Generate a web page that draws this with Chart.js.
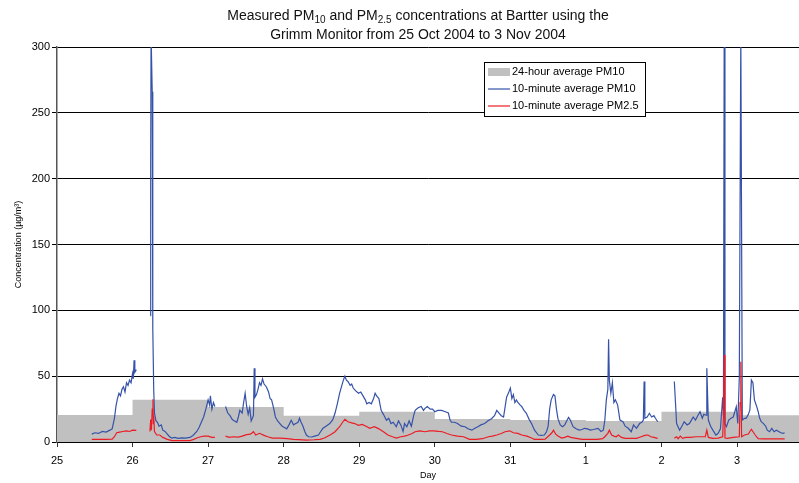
<!DOCTYPE html>
<html>
<head>
<meta charset="utf-8">
<script src="https://cdn.jsdelivr.net/npm/chart.js@4/dist/chart.umd.min.js"></script>
<style>
  body { margin: 0; background: #fff; }
  #wrap { position: relative; width: 799px; height: 483px; }
  #title {
    position: absolute; left: 0; top: 6px; width: 836px;
    text-align: center; font: 14px "Liberation Sans", Arial, sans-serif;
    line-height: 19px; color: #111;
  }
  #title sub { font-size: 10px; vertical-align: -3px; line-height: 0; }
</style>
</head>
<body>
<div id="wrap">
  <canvas id="chart" width="799" height="483"></canvas>
  <div id="title">Measured PM<sub>10</sub> and PM<sub>2.5</sub> concentrations at Bartter using the<br>Grimm Monitor from 25 Oct 2004 to 3 Nov 2004</div>
</div>
<script>
// Day offsets from 25 Oct 2004 (0 = 25 Oct, 9 = 3 Nov)
const dayLabels = ['25', '26', '27', '28', '29', '30', '31', '1', '2', '3'];
const yTicks = [0, 50, 100, 150, 200, 250, 300];
const dayEnd = 9.82;

// 24-hour average PM10, one value per day
const avgDays = [0, 1, 2, 3, 4, 5, 6, 7, 8, 9, dayEnd];
const avgValues = [20.5, 32, 26.5, 20, 23, 17.5, 16.7, 16, 23, 20.3, 20.3];

// 10-minute average PM10 [day, value]; null = no data
const pm10 = [
    [0.46, 6], [0.50, 7], [0.55, 6.5], [0.60, 8], [0.65, 7.5], [0.70, 9], [0.73, 10], [0.76, 18],
    [0.78, 27], [0.80, 33], [0.82, 37], [0.84, 35], [0.86, 40], [0.88, 42], [0.90, 38], [0.92, 45],
    [0.94, 43], [0.96, 47], [0.98, 45], [1.00, 52], [1.01, 48], [1.02, 62], [1.03, 53], [1.05, 55],
    [1.10, null],
    [1.235, 96], [1.24, 210], [1.245, 310], [1.255, 310], [1.26, 266], [1.265, 147], [1.27, 87],
    [1.28, 40], [1.29, 22], [1.31, 16], [1.33, 15], [1.35, 12], [1.38, 13], [1.40, 9], [1.43, 8],
    [1.46, 6], [1.49, 4], [1.52, 3], [1.56, 3.5], [1.60, 2.8], [1.65, 3.2], [1.70, 3], [1.76, 3.5],
    [1.80, 5], [1.85, 8], [1.88, 11], [1.91, 15], [1.94, 19], [1.97, 25], [2.00, 32], [2.02, 28],
    [2.03, 35], [2.05, 25], [2.07, 30], [2.09, 27],
    [2.15, null],
    [2.23, 27], [2.26, 22], [2.29, 20], [2.32, 17], [2.35, 16], [2.38, 15], [2.40, 19], [2.42, 24],
    [2.45, 22], [2.47, 30], [2.49, 37], [2.51, 27], [2.53, 21], [2.55, 26], [2.57, 16], [2.60, 20],
    [2.61, 56], [2.62, 34], [2.64, 36], [2.66, 40], [2.68, 45], [2.70, 43], [2.72, 48], [2.74, 44],
    [2.77, 42], [2.80, 38], [2.82, 33], [2.84, 32], [2.87, 25], [2.89, 19], [2.92, 16], [2.95, 14],
    [2.98, 12], [3.01, 11], [3.04, 10], [3.07, 13], [3.10, 16.5], [3.13, 13], [3.16, 14], [3.19, 15],
    [3.21, 18], [3.23, 15], [3.25, 12.7], [3.28, 8], [3.30, 5.3], [3.33, 4], [3.37, 3.8], [3.41, 4.5],
    [3.46, 5.3], [3.49, 8], [3.52, 10.4], [3.56, 12], [3.61, 14], [3.65, 17], [3.68, 22], [3.71, 29],
    [3.74, 37], [3.77, 43], [3.79, 47], [3.81, 50], [3.83, 47], [3.85, 46], [3.88, 43], [3.90, 44],
    [3.92, 41], [3.95, 39], [3.99, 37], [4.02, 38], [4.05, 35], [4.08, 32], [4.10, 29], [4.13, 30],
    [4.16, 29], [4.19, 33], [4.21, 37], [4.23, 35], [4.26, 33], [4.29, 24], [4.32, 21], [4.36, 16.5],
    [4.39, 18], [4.42, 14], [4.45, 15], [4.49, 11.6], [4.52, 16], [4.55, 13], [4.58, 8], [4.60, 14],
    [4.63, 11.6], [4.66, 16], [4.69, 12], [4.72, 20], [4.74, 24], [4.78, 26], [4.82, 27], [4.85, 24],
    [4.87, 25.6], [4.90, 27], [4.94, 25], [4.97, 25], [5.00, 23], [5.04, 24], [5.09, 24], [5.14, 23],
    [5.18, 22], [5.20, 17], [5.22, 15], [5.26, 15], [5.30, 14], [5.35, 12], [5.40, 11.6], [5.44, 10],
    [5.49, 9], [5.53, 10.5], [5.57, 11.6], [5.61, 13], [5.66, 14], [5.70, 16], [5.75, 17.7], [5.79, 20],
    [5.82, 24], [5.85, 22], [5.88, 20], [5.91, 19], [5.95, 34], [5.98, 38], [6.00, 41], [6.02, 33],
    [6.04, 36], [6.06, 30], [6.08, 32], [6.10, 30], [6.13, 28], [6.15, 27], [6.18, 24], [6.21, 22],
    [6.25, 17], [6.28, 14], [6.32, 9], [6.37, 5.3], [6.41, 5], [6.45, 5.3], [6.48, 8], [6.50, 12],
    [6.52, 25], [6.54, 32], [6.57, 36], [6.59, 35], [6.61, 25], [6.63, 17.7], [6.66, 13], [6.69, 11.6],
    [6.72, 13], [6.74, 15.4], [6.77, 18.7], [6.79, 17], [6.83, 11.6], [6.87, 10], [6.91, 9], [6.95, 9.5],
    [6.98, 10.4], [7.02, 10], [7.06, 9], [7.10, 9.5], [7.16, 10.4], [7.20, 8], [7.23, 9], [7.25, 16.5],
    [7.27, 32], [7.29, 40], [7.30, 78], [7.31, 47], [7.33, 37], [7.35, 45], [7.37, 30], [7.39, 32],
    [7.42, 28], [7.45, 16.7], [7.49, 15.4], [7.52, 12], [7.56, 10.4], [7.60, 7.8], [7.63, 12.9], [7.67, 10.4],
    [7.71, 14], [7.74, 15], [7.76, 16.7], [7.77, 46], [7.78, 18], [7.81, 19], [7.84, 21.8], [7.87, 19],
    [7.90, 20], [7.92, 18], [7.95, 15.4],
    [8.05, null],
    [8.17, 46], [8.19, 25], [8.20, 14], [8.24, 9], [8.27, 12], [8.30, 15.4], [8.34, 13], [8.37, 14],
    [8.40, 17], [8.42, 19], [8.45, 16.7], [8.48, 20], [8.51, 23], [8.54, 18], [8.56, 21], [8.59, 20.3],
    [8.60, 56], [8.62, 16.7], [8.65, 12], [8.68, 9], [8.72, 5.3], [8.75, 6.6], [8.78, 10], [8.81, 34],
    [8.82, 20], [8.83, 310], [8.84, 14], [8.86, 11.6], [8.89, 16.7], [8.92, 18], [8.95, 19], [8.99, 26.8],
    [9.01, 14], [9.03, 49], [9.05, 310], [9.07, 16.7], [9.10, 18], [9.12, 18], [9.15, 21], [9.17, 24.3],
    [9.19, 47], [9.21, 45], [9.23, 32], [9.26, 27], [9.28, 23], [9.30, 18], [9.32, 15.4], [9.35, 14],
    [9.38, 12], [9.40, 9], [9.43, 7.8], [9.46, 10.4], [9.49, 7.8], [9.52, 9], [9.55, 8], [9.58, 7],
    [9.61, 6.6], [9.63, 7]
];

// 10-minute average PM2.5 [day, value]; null = no data
const pm25 = [
    [0.46, 2], [0.55, 2], [0.65, 2], [0.73, 2.2], [0.76, 4], [0.79, 7], [0.83, 7.5], [0.87, 8],
    [0.92, 8.5], [0.96, 8], [1.00, 9], [1.05, 8.8],
    [1.10, null],
    [1.23, 8], [1.24, 17], [1.25, 9], [1.26, 25], [1.27, 32.4], [1.275, 14], [1.28, 20], [1.29, 8],
    [1.32, 5.3], [1.36, 5.3], [1.40, 3.5], [1.46, 2], [1.52, 1], [1.60, 1], [1.70, 1], [1.76, 1],
    [1.81, 2], [1.85, 3], [1.90, 4], [1.95, 4.5], [2.00, 4.5], [2.05, 3.5], [2.09, 3.5],
    [2.15, null],
    [2.23, 4.5], [2.28, 3.5], [2.33, 4], [2.40, 3.7], [2.45, 4.5], [2.51, 5.6], [2.56, 6], [2.60, 7.8],
    [2.63, 5.3], [2.68, 6.6], [2.74, 5], [2.79, 4], [2.85, 3], [2.95, 3], [3.05, 2.5], [3.13, 2],
    [3.20, 1.8], [3.30, 1.5], [3.40, 1.7], [3.48, 2], [3.54, 3], [3.57, 4], [3.62, 5.5], [3.68, 7.8],
    [3.74, 11.6], [3.78, 15], [3.81, 17.2], [3.85, 15.4], [3.90, 14.5], [3.94, 14], [3.99, 12.7], [4.04, 13.3],
    [4.09, 12], [4.14, 10.4], [4.20, 11.6], [4.26, 10], [4.32, 7.8], [4.38, 5.3], [4.44, 4], [4.49, 3],
    [4.55, 4], [4.60, 4.5], [4.65, 5.3], [4.70, 6.5], [4.74, 7.8], [4.80, 8.5], [4.87, 7.8], [4.93, 8.5],
    [4.98, 8.5], [5.05, 8], [5.10, 7.8], [5.16, 6.5], [5.22, 5.3], [5.30, 4.5], [5.38, 4], [5.46, 2],
    [5.55, 2], [5.63, 2.5], [5.71, 4], [5.76, 4.5], [5.82, 5.3], [5.88, 6.5], [5.93, 7.8], [5.99, 8.5],
    [6.04, 7], [6.10, 6.5], [6.15, 5.3], [6.22, 4.5], [6.28, 3], [6.32, 2], [6.40, 2], [6.46, 2.2],
    [6.52, 5.3], [6.55, 7], [6.57, 9], [6.60, 6], [6.63, 4.5], [6.68, 3], [6.72, 3.5], [6.76, 4.5],
    [6.80, 3.5], [6.85, 3], [6.95, 2], [7.05, 2], [7.15, 2], [7.22, 2.5], [7.25, 4], [7.29, 6.6],
    [7.31, 9], [7.34, 5.3], [7.37, 4.5], [7.40, 4], [7.43, 5.3], [7.47, 3.5], [7.52, 2.8], [7.60, 2.8],
    [7.67, 2.8], [7.73, 4], [7.78, 5], [7.82, 5.3], [7.86, 4], [7.90, 3.5], [7.95, 2.8],
    [8.05, null],
    [8.17, 2.8], [8.20, 4], [8.22, 2.5], [8.25, 4.5], [8.28, 2.8], [8.32, 3.5], [8.38, 3.5], [8.46, 4],
    [8.52, 4], [8.58, 4], [8.60, 9], [8.62, 3.5], [8.68, 2.8], [8.75, 3], [8.81, 4], [8.82, 20],
    [8.83, 66], [8.84, 3], [8.87, 2.8], [8.95, 3.5], [9.03, 4], [9.04, 30], [9.05, 61], [9.06, 4],
    [9.10, 5.3], [9.15, 6], [9.17, 8], [9.19, 9.6], [9.21, 8], [9.24, 5.3], [9.28, 2.5], [9.35, 2.3],
    [9.45, 2.3], [9.55, 2.3], [9.63, 2.3]
];

const toPoints = arr => arr.map(p => ({ x: p[0], y: p[1] }));

// Legend box drawn inside the plot area
const boxLegend = {
    id: 'boxLegend',
    afterDraw(chart) {
        const ctx = chart.ctx;
        const x = 484, y = 62, w = 161, h = 54;
        ctx.save();
        ctx.fillStyle = '#fff';
        ctx.fillRect(x, y, w, h);
        ctx.strokeStyle = '#000';
        ctx.lineWidth = 1;
        ctx.strokeRect(x + 0.5, y + 0.5, w, h);
        ctx.font = '11px "Liberation Sans", Arial, sans-serif';
        ctx.textBaseline = 'middle';
        chart.data.datasets.forEach((ds, i) => {
            const cy = y + 10 + i * 17;
            if (ds.fill) {
                ctx.fillStyle = ds.backgroundColor;
                ctx.fillRect(x + 4, cy - 4, 22, 8);
            } else {
                ctx.strokeStyle = ds.borderColor;
                ctx.lineWidth = 1.2;
                ctx.beginPath();
                ctx.moveTo(x + 4, cy);
                ctx.lineTo(x + 26, cy);
                ctx.stroke();
            }
            ctx.fillStyle = '#000';
            ctx.fillText(ds.label, x + 28, cy);
        });
        ctx.restore();
    }
};

new Chart(document.getElementById('chart'), {
    type: 'line',
    data: {
        datasets: [{
            label: '24-hour average PM10',
            data: avgDays.map((d, i) => ({ x: d, y: avgValues[i] })),
            stepped: true,
            fill: 'origin',
            backgroundColor: '#c0c0c0',
            borderColor: '#c0c0c0',
            borderWidth: 0,
            pointRadius: 0,
            order: 3
        }, {
            label: '10-minute average PM10',
            data: toPoints(pm10),
            borderColor: '#3552a8',
            borderWidth: 1.2,
            pointRadius: 0,
            fill: false,
            spanGaps: false,
            order: 2
        }, {
            label: '10-minute average PM2.5',
            data: toPoints(pm25),
            borderColor: '#ec1c24',
            borderWidth: 1.2,
            pointRadius: 0,
            fill: false,
            spanGaps: false,
            order: 1
        }]
    },
    options: {
        responsive: false,
        animation: false,
        layout: { padding: { top: 47, right: 0, left: 0, bottom: 0 } },
        plugins: {
            legend: { display: false },
            tooltip: { enabled: false },
            title: { display: false }
        },
        scales: {
            x: {
                type: 'linear',
                min: 0,
                max: dayEnd,
                afterFit: scale => { scale.height = 41; },
                grid: { drawOnChartArea: false, drawTicks: true, tickLength: 5, color: '#333' },
                border: { color: '#000', width: 1 },
                ticks: {
                    stepSize: 1,
                    includeBounds: false,
                    autoSkip: false,
                    maxRotation: 0,
                    padding: 7,
                    color: '#000',
                    font: { family: '"Liberation Sans", Arial, sans-serif', size: 11 },
                    callback: v => Number.isInteger(v) ? dayLabels[v] : ''
                },
                title: {
                    display: true,
                    text: 'Day',
                    color: '#000',
                    padding: { top: 0, bottom: 2 },
                    font: { family: '"Liberation Sans", Arial, sans-serif', size: 9 }
                }
            },
            y: {
                min: yTicks[0],
                max: yTicks[yTicks.length - 1],
                afterFit: scale => { scale.width = 57; },
                afterBuildTicks: scale => { scale.ticks = yTicks.map(v => ({ value: v })); },
                grid: { color: '#000', lineWidth: 1, tickLength: 5 },
                border: { color: '#555', width: 1.5 },
                ticks: {
                    padding: 2,
                    color: '#000',
                    font: { family: '"Liberation Sans", Arial, sans-serif', size: 11 }
                },
                title: {
                    display: true,
                    text: 'Concentration (µg/m³)',
                    color: '#000',
                    padding: { top: 13, bottom: 0 },
                    font: { family: '"Liberation Sans", Arial, sans-serif', size: 9 }
                }
            }
        }
    },
    plugins: [boxLegend]
});
</script>
</body>
</html>
